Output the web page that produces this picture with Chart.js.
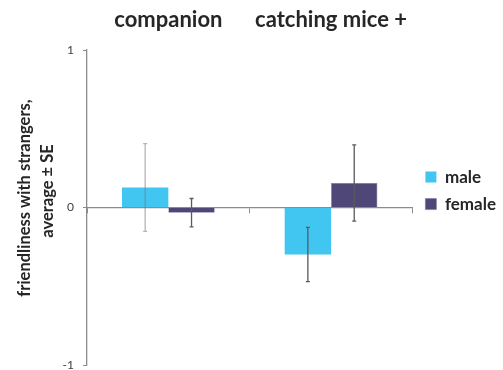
<!DOCTYPE html>
<html>
<head>
<meta charset="utf-8">
<script src="https://cdn.jsdelivr.net/npm/chart.js@4"></script>
<style>
  html, body { margin: 0; padding: 0; background: #fff; }
  #wrap { width: 503px; height: 370px; }
</style>
</head>
<body>
<div id="wrap"><canvas id="myChart"></canvas></div>
<script>
  const categories = ['companion', 'catching mice +'];
  const maleValues = [0.127, -0.298];
  const femaleValues = [-0.033, 0.156];
  const maleSE = [0.278, 0.172];
  const femaleSE = [0.09, 0.242];
  const yTicks = [-1, 0, 1];
  const yTitle = ['friendliness with strangers,', 'average \u00b1 SE'];

  const textColor = '#262626';
  const axisColor = '#8c8c8c';

  // error bars drawn over the bars, using the bar positions from the chart
  const errorBars = {
    id: 'errorBars',
    afterDatasetsDraw(chart, args, opts) {
      const ctx = chart.ctx;
      const y = chart.scales.y;
      chart.data.datasets.forEach(function (ds, i) {
        const meta = chart.getDatasetMeta(i);
        meta.data.forEach(function (bar, j) {
          const v = ds.data[j], se = ds.se[j];
          const yTop = y.getPixelForValue(v + se);
          const yBot = y.getPixelForValue(v - se);
          ctx.save();
          ctx.strokeStyle = opts.colors[i][j];
          ctx.lineWidth = 1.3;
          ctx.beginPath();
          ctx.moveTo(bar.x, yTop);
          ctx.lineTo(bar.x, yBot);
          ctx.moveTo(bar.x - 2, yTop);
          ctx.lineTo(bar.x + 2, yTop);
          ctx.moveTo(bar.x - 2, yBot);
          ctx.lineTo(bar.x + 2, yBot);
          ctx.stroke();
          ctx.restore();
        });
      });
    }
  };

  // two-line rotated y axis title
  const yAxisTitle = {
    id: 'yAxisTitle',
    afterDraw(chart, args, opts) {
      const ctx = chart.ctx;
      yTitle.forEach(function (line, k) {
        ctx.save();
        ctx.font = 'bold 16.5px Lato';
        ctx.fillStyle = textColor;
        ctx.textAlign = 'left';
        ctx.textBaseline = 'middle';
        ctx.translate(opts.x[k], opts.y[k]);
        ctx.rotate(-Math.PI / 2);
        const w = ctx.measureText(line).width;
        ctx.fillText(line, -w / 2, 0);
        ctx.restore();
      });
    }
  };

  // nudge the legend a little to the right, like the original
  const legendNudge = {
    id: 'legendNudge',
    afterLayout(chart, args, opts) {
      if (chart.legend) {
        chart.legend.left += opts.dx;
        chart.legend.right += opts.dx;
      }
    }
  };

  const data = {
    labels: categories,
    datasets: [
      {
        label: 'male',
        data: maleValues,
        se: maleSE,
        backgroundColor: '#41c6f2'
      },
      {
        label: 'female',
        data: femaleValues,
        se: femaleSE,
        backgroundColor: '#4f4778',
        borderColor: '#7d76a0',
        borderWidth: 0.6
      }
    ]
  };

  const config = {
    type: 'bar',
    data: data,
    options: {
      responsive: true,
      maintainAspectRatio: false,
      animation: false,
      categoryPercentage: 0.57,
      barPercentage: 1.0,
      layout: { padding: { top: 0, bottom: 5, left: 0, right: 0 } },
      plugins: {
        legend: {
          position: 'right',
          title: {
            display: true,
            text: ' ',
            font: { size: 1 },
            padding: { top: 15, bottom: 0 }
          },
          labels: {
            boxWidth: 11,
            boxHeight: 11,
            padding: 10,
            color: textColor,
            font: { family: 'Lato', size: 17, weight: 'bold' }
          }
        },
        tooltip: { enabled: false },
        errorBars: {
          colors: [['rgba(120,120,120,0.55)', '#5a5a5a'], ['#5a5a5a', '#5a5a5a']]
        },
        yAxisTitle: { x: [25, 48], y: [198, 191] },
        legendNudge: { dx: 3 }
      },
      scales: {
        x: {
          position: { y: 0 },
          offset: true,
          grid: {
            offset: true,
            drawOnChartArea: false,
            drawTicks: true,
            tickLength: 5,
            color: axisColor
          },
          border: { color: axisColor, width: 1.3 },
          ticks: { display: false },
          afterFit(scale) { scale.height = 0; }
        },
        x2: {
          type: 'category',
          position: 'top',
          offset: true,
          labels: categories,
          grid: { display: false },
          border: { display: false },
          ticks: {
            color: textColor,
            padding: 9,
            maxRotation: 0,
            font: { family: 'Lato', size: 22, weight: 'bold' }
          },
          afterFit(scale) { scale.height = 50; }
        },
        y: {
          min: -1,
          max: 1,
          afterBuildTicks(scale) {
            scale.ticks = yTicks.map(function (v) { return { value: v }; });
          },
          grid: {
            drawOnChartArea: false,
            drawTicks: true,
            tickLength: 4,
            color: axisColor
          },
          border: { color: axisColor, width: 1.3 },
          ticks: {
            color: '#404040',
            padding: 9,
            font: { family: 'Lato', size: 12 }
          },
          afterFit(scale) {
            scale.width = 87;
            scale.paddingTop = 0;
            scale.paddingBottom = 0;
          }
        }
      }
    },
    plugins: [errorBars, yAxisTitle, legendNudge]
  };

  var myChart = new Chart(document.getElementById('myChart'), config);
</script>
</body>
</html>
